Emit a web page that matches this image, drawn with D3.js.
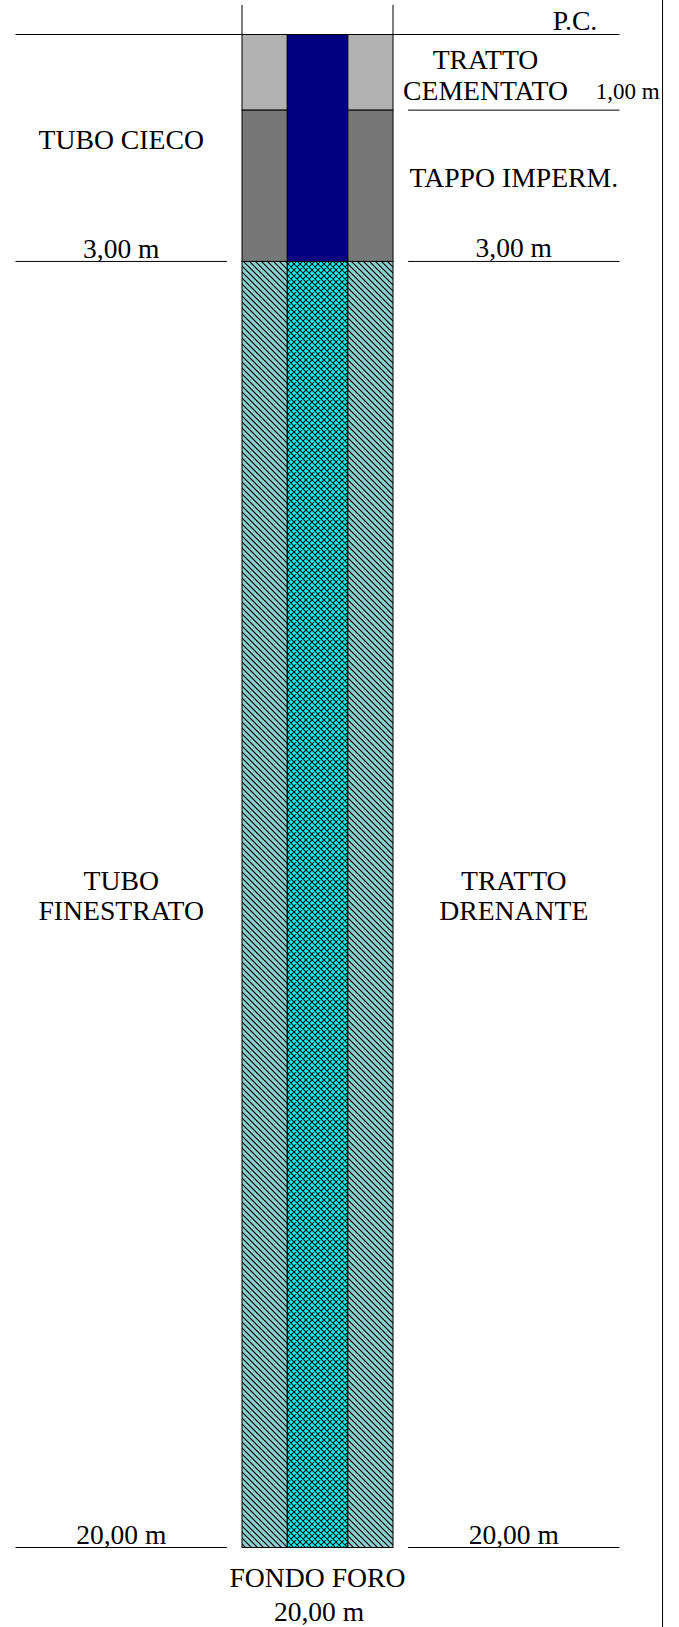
<!DOCTYPE html>
<html>
<head>
<meta charset="utf-8">
<script src="https://cdn.jsdelivr.net/npm/d3@7"></script>
<style>
body { margin: 0; background: #fff; }
text { font-family: "Liberation Serif", serif; fill: #000; }
</style>
</head>
<body>
<script>
// depths in metres
var depthCementBottom = 1;
var depthPlugBottom = 3;
var depthBottom = 20;

// cross section widths, 1 = borehole radius
var holeRadius = 1;
var pipeRadius = 0.4;
var leaderInner = 1.2;
var leaderOuter = 4;

var annulusLayers = [
    {name: 'cement', from: 0, to: depthCementBottom, fill: '#b2b2b2'},
    {name: 'plug', from: depthCementBottom, to: depthPlugBottom, fill: '#777777'},
    {name: 'drain', from: depthPlugBottom, to: depthBottom, fill: 'url(#hatchSide)'}
];
var pipeLayers = [
    {name: 'blind', from: 0, to: depthPlugBottom, fill: '#000080'},
    {name: 'slotted', from: depthPlugBottom, to: depthBottom, fill: 'url(#hatchPipe)'}
];

var leftLeaders = [depthPlugBottom, depthBottom];
var rightLeaders = [depthCementBottom, depthPlugBottom, depthBottom];

var labels = [
    {text: 'P.C.', x: 3.41, d: -0.06, size: 27.7},
    {text: 'TRATTO', x: 2.225, d: 0.45, size: 27.7},
    {text: 'CEMENTATO', x: 2.225, d: 0.86, size: 27.7},
    {text: '1,00 m', x: 4.11, d: 0.85, size: 23},
    {text: 'TUBO CIECO', x: -2.6, d: 1.52, size: 27.7},
    {text: 'TAPPO IMPERM.', x: 2.6, d: 2.02, size: 27.7},
    {text: '3,00 m', x: -2.6, d: 2.96, size: 27.5},
    {text: '3,00 m', x: 2.6, d: 2.94, size: 27.5},
    {text: 'TUBO', x: -2.6, d: 11.31, size: 27.7},
    {text: 'FINESTRATO', x: -2.6, d: 11.71, size: 27.7},
    {text: 'TRATTO', x: 2.6, d: 11.31, size: 27.7},
    {text: 'DRENANTE', x: 2.6, d: 11.71, size: 27.7},
    {text: '20,00 m', x: -2.6, d: 19.95, size: 27.5},
    {text: '20,00 m', x: 2.6, d: 19.95, size: 27.5},
    {text: 'FONDO FORO', x: 0, d: 20.52, size: 27.7},
    {text: '20,00 m', x: 0.02, d: 20.97, size: 27.5}
];

var width = 679, height = 1627;

var y = d3.scaleLinear().domain([0, depthBottom]).range([34.5, 1547.5]);
var x = d3.scaleLinear().domain([-4, 4]).range([15.5, 619.5]);

var svg = d3.select('body').append('svg')
    .attr('width', width)
    .attr('height', height)
    .style('display', 'block');

// hatch fills
var defs = svg.append('defs');

var diagDown = 'M-1,-1L7,7M-1,5L1,7M5,-1L7,1';
var diagUp = 'M-1,7L7,-1M-1,1L1,-1M5,7L7,5';

var side = defs.append('pattern')
    .attr('id', 'hatchSide')
    .attr('patternUnits', 'userSpaceOnUse')
    .attr('width', 6).attr('height', 6);
side.append('rect').attr('width', 6).attr('height', 6).attr('fill', '#8fd0d0');
side.append('path')
    .attr('d', diagDown)
    .attr('stroke', '#000').attr('stroke-width', 1.2);

var pipe = defs.append('pattern')
    .attr('id', 'hatchPipe')
    .attr('patternUnits', 'userSpaceOnUse')
    .attr('width', 6).attr('height', 6);
pipe.append('rect').attr('width', 6).attr('height', 6).attr('fill', '#00ffff');
pipe.append('path')
    .attr('d', diagDown + diagUp)
    .attr('stroke', '#000').attr('stroke-width', 1.1);

// annulus, both sides of the pipe
[[-holeRadius, -pipeRadius], [pipeRadius, holeRadius]].forEach(function(span){
    svg.selectAll(null)
    .data(annulusLayers)
    .enter()
    .append('rect')
        .attr('x', x(span[0]))
        .attr('width', x(span[1]) - x(span[0]))
        .attr('y', function(d){ return y(d.from); })
        .attr('height', function(d){ return y(d.to) - y(d.from); })
        .attr('fill', function(d){ return d.fill; })
        .attr('stroke', '#000')
        .attr('stroke-width', 1);
});

// pipe
svg.selectAll(null)
.data(pipeLayers)
.enter()
.append('rect')
    .attr('x', x(-pipeRadius))
    .attr('width', x(pipeRadius) - x(-pipeRadius))
    .attr('y', function(d){ return y(d.from); })
    .attr('height', function(d){ return y(d.to) - y(d.from); })
    .attr('fill', function(d){ return d.fill; })
    .attr('stroke', '#000')
    .attr('stroke-width', 1);

function hline(x1, x2, depth) {
    svg.append('line')
        .attr('x1', x1).attr('x2', x2)
        .attr('y1', y(depth)).attr('y2', y(depth))
        .attr('stroke', '#000').attr('stroke-width', 1);
}

// ground level
hline(x(-leaderOuter), x(leaderOuter), 0);

leftLeaders.forEach(function(d){ hline(x(-leaderOuter), x(-leaderInner), d); });
rightLeaders.forEach(function(d){ hline(x(leaderInner), x(leaderOuter), d); });

// borehole walls above ground and the frame line on the right
[-holeRadius, holeRadius].forEach(function(v){
    svg.append('line')
        .attr('x1', x(v)).attr('x2', x(v))
        .attr('y1', y(-0.39)).attr('y2', y(0))
        .attr('stroke', '#000');
});
svg.append('line')
    .attr('x1', x(4.57)).attr('x2', x(4.57))
    .attr('y1', 0).attr('y2', height)
    .attr('stroke', '#000');

svg.selectAll('text')
.data(labels)
.enter()
.append('text')
    .attr('x', function(d){ return x(d.x); })
    .attr('y', function(d){ return y(d.d); })
    .attr('text-anchor', 'middle')
    .style('font-size', function(d){ return d.size + 'px'; })
    .text(function(d){ return d.text; });
</script>
</body>
</html>
